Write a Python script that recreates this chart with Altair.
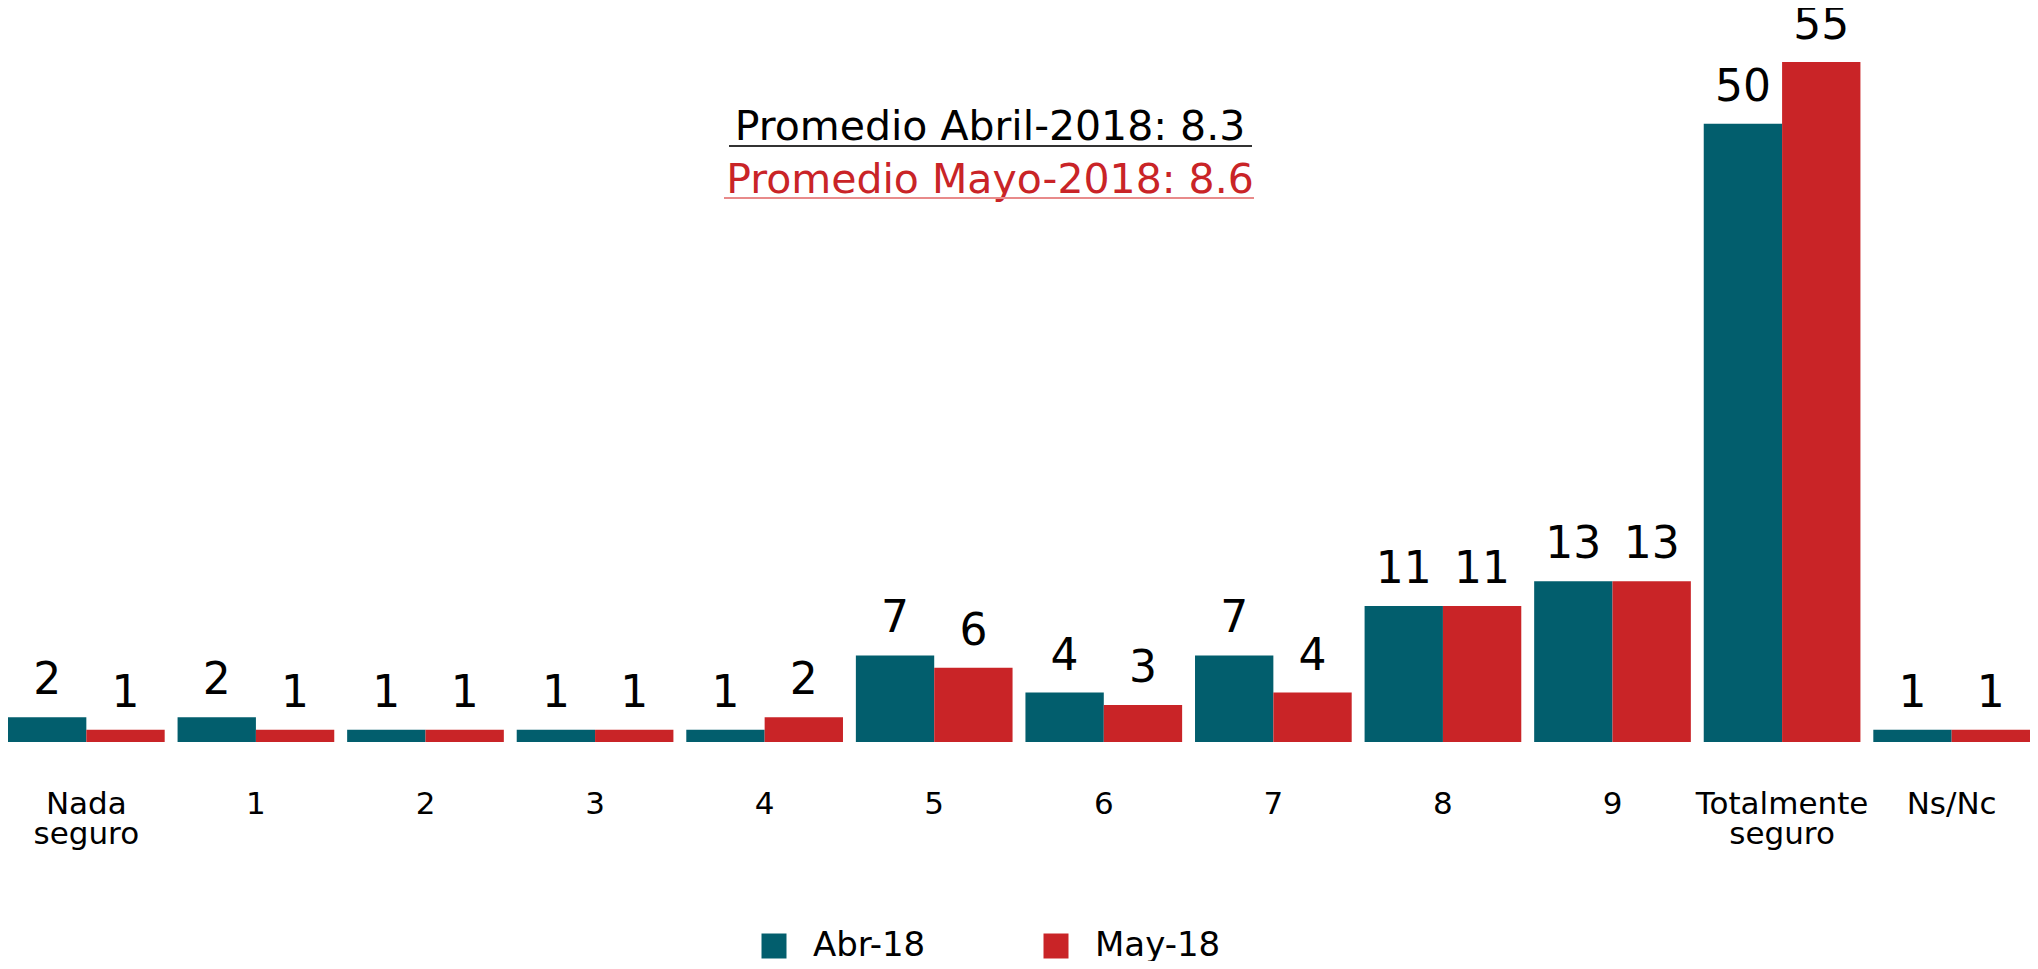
import altair as alt
import pandas as pd

categories = ["Nada seguro", "1", "2", "3", "4", "5", "6", "7", "8", "9", "Totalmente seguro", "Ns/Nc"]
series = ["Abr-18", "May-18"]
abr_values = [2, 2, 1, 1, 1, 7, 4, 7, 11, 13, 50, 1]
may_values = [1, 1, 1, 1, 2, 6, 3, 4, 11, 13, 55, 1]
colors = ["#025E6D", "#C92427"]
note_lines = ["Promedio Abril-2018: 8.3", "Promedio Mayo-2018: 8.6"]
note_colors = ["#000000", "#C92427"]
underline_colors = ["#333333", "#E88A8A"]

rows = []
for c, a, m in zip(categories, abr_values, may_values):
    rows.append({"cat": c, "serie": series[0], "val": a})
    rows.append({"cat": c, "serie": series[1], "val": m})
df = pd.DataFrame(rows)

FONT = "DejaVu Sans"

x_enc = alt.X("cat:N", sort=categories,
              scale=alt.Scale(paddingInner=0.076, paddingOuter=0),
              axis=alt.Axis(title=None, domain=False, ticks=False, tickSize=0,
                            labelAngle=0, labelFontSize=31, labelFont=FONT,
                            labelColor="#000000", labelPadding=47,
                            labelLineHeight=30, labelBaseline="top",
                            labelExpr="split(datum.label, ' ')"))
xo_enc = alt.XOffset("serie:N", sort=series, scale=alt.Scale(paddingInner=0, paddingOuter=0))
y_enc = alt.Y("val:Q", scale=alt.Scale(domain=[0, 59.37]), axis=None)

base = alt.Chart(df)

bars = base.mark_bar().encode(
    x=x_enc, xOffset=xo_enc, y=y_enc,
    color=alt.Color("serie:N", sort=series,
                    scale=alt.Scale(domain=series, range=colors),
                    legend=alt.Legend(title=None, orient="none", direction="horizontal",
                                      columns=2, legendX=749, legendY=921,
                                      symbolType="square", symbolSize=625,
                                      symbolStrokeWidth=0, labelFont=FONT,
                                      labelFontSize=34, labelColor="#000000",
                                      labelOffset=22, columnPadding=113, padding=0)),
)

labels = base.mark_text(font=FONT, fontSize=44, baseline="alphabetic", dy=-23, color="#000000").encode(
    x=x_enc, xOffset=xo_enc, y=y_enc, text=alt.Text("val:Q"),
)

notes_df = pd.DataFrame({"t": note_lines, "c": note_colors, "y": [132, 185]})
notes = alt.Chart(notes_df).mark_text(font=FONT, fontSize=41, baseline="alphabetic", align="center").encode(
    x=alt.value(982),
    y=alt.Y("y:Q", scale=None),
    text="t:N",
    color=alt.Color("c:N", scale=None),
)

ul_df = pd.DataFrame({"x1": [721, 716], "x2": [1244, 1246], "y": [138, 190], "c": underline_colors})
underlines = alt.Chart(ul_df).mark_rule(strokeWidth=2).encode(
    x=alt.X("x1:Q", scale=None),
    x2="x2:Q",
    y=alt.Y("y:Q", scale=None),
    color=alt.Color("c:N", scale=None),
)

chart = alt.layer(bars, labels, notes, underlines).properties(
    width=2022, height=734,
    autosize=alt.AutoSizeParams(type="none"),
    padding={"left": 0, "top": 0, "right": 0, "bottom": 219},
    background="white",
).configure_view(stroke=None)

chart.save("out.html", embed_options={"renderer": "svg", "actions": False})
